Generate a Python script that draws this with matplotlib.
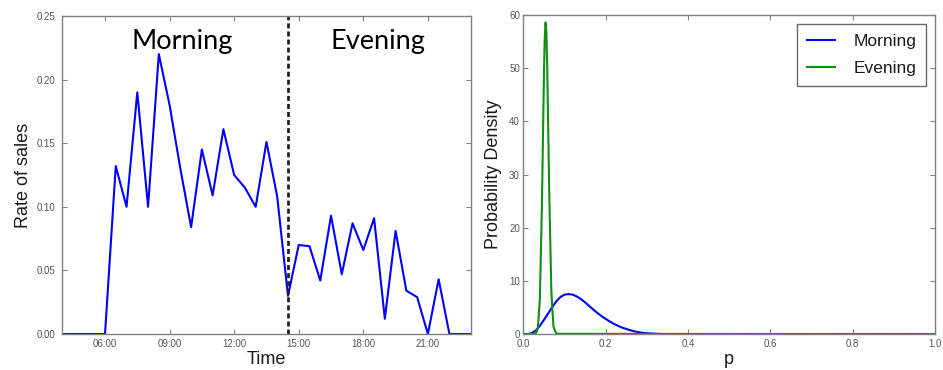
import matplotlib.pyplot as plt

# half-hourly sales rate
times = ["04:00", "04:30", "05:00", "05:30", "06:00", "06:30", "07:00", "07:30",
         "08:00", "08:30", "09:00", "09:30", "10:00", "10:30", "11:00", "11:30",
         "12:00", "12:30", "13:00", "13:30", "14:00", "14:30", "15:00", "15:30",
         "16:00", "16:30", "17:00", "17:30", "18:00", "18:30", "19:00", "19:30",
         "20:00", "20:30", "21:00", "21:30", "22:00", "22:30", "23:00"]
rate = [0.0, 0.0, 0.0, 0.0, 0.0, 0.132, 0.100, 0.190,
        0.100, 0.220, 0.180, 0.130, 0.084, 0.145, 0.109, 0.161,
        0.125, 0.115, 0.100, 0.151, 0.108, 0.030, 0.070, 0.069,
        0.042, 0.093, 0.047, 0.087, 0.066, 0.091, 0.012, 0.081,
        0.034, 0.029, 0.0, 0.043, 0.0, 0.0, 0.0]
split_time = "14:30"
time_ticks = ["06:00", "09:00", "12:00", "15:00", "18:00", "21:00"]
rate_ticks = [0.0, 0.05, 0.10, 0.15, 0.20, 0.25]

# posterior densities
p_morning = [0.0, 0.01, 0.02, 0.03, 0.04, 0.05, 0.06, 0.07, 0.08, 0.09, 0.10,
             0.11, 0.12, 0.13, 0.14, 0.15, 0.16, 0.17, 0.18, 0.19, 0.20, 0.21,
             0.22, 0.23, 0.24, 0.25, 0.26, 0.27, 0.28, 0.29, 0.30, 0.32, 0.35,
             0.40, 1.0]
pdf_morning = [0.0, 0.02, 0.2, 0.7, 1.6, 2.7, 3.9, 5.1, 6.2, 7.0, 7.45,
               7.55, 7.45, 7.1, 6.6, 6.0, 5.3, 4.65, 4.0, 3.4, 2.9, 2.4,
               1.95, 1.6, 1.25, 1.0, 0.75, 0.55, 0.4, 0.28, 0.2, 0.1, 0.03,
               0.0, 0.0]
p_evening = [0.0, 0.030, 0.035, 0.040, 0.045, 0.050, 0.052, 0.054, 0.056,
             0.058, 0.063, 0.068, 0.073, 0.080, 1.0]
pdf_evening = [0.0, 0.1, 1.0, 6.5, 24.0, 49.0, 56.0, 58.6, 56.5,
               50.0, 26.0, 8.0, 1.5, 0.1, 0.0]
p_ticks = [0.0, 0.2, 0.4, 0.6, 0.8, 1.0]
density_ticks = [0, 10, 20, 30, 40, 50, 60]


def to_hours(t):
    h, m = t.split(":")
    return int(h) + int(m) / 60


hours = [to_hours(t) for t in times]

SPINE = "#808080"
TICKLBL = "#555555"
LABEL = "#1a1a1a"
plt.rcParams["font.family"] = ["Liberation Sans", "DejaVu Sans"]

fig = plt.figure(figsize=(9.43, 3.70), dpi=100)
ax1 = fig.add_axes([0.0657, 0.0973, 0.4337, 0.8595])
ax2 = fig.add_axes([0.555, 0.0965, 0.4366, 0.863])


def style(ax, ypad):
    for s in ax.spines.values():
        s.set_color(SPINE)
        s.set_linewidth(1.0)
    ax.tick_params(direction="in", top=True, right=True, length=3.5,
                   width=0.8, color=SPINE, labelsize=7, labelcolor=TICKLBL)
    ax.tick_params(axis="x", pad=3.5)
    ax.tick_params(axis="y", pad=ypad)


# left: sales rate over the day
ax1.plot(hours, rate, color="#0000ff", lw=1.5)
ax1.axvline(to_hours(split_time), color="#222222", lw=2,
            linestyle=(0, (1.8, 1.1)))
ax1.set_xlim(hours[0], hours[-1])
ax1.set_ylim(0, 0.25)
ax1.set_xticks([to_hours(t) for t in time_ticks])
ax1.set_xticklabels(time_ticks)
ax1.set_yticks(rate_ticks)
ax1.set_yticklabels(["%.2f" % v for v in rate_ticks])
style(ax1, 5)
ax1.set_xlabel("Time", fontsize=13, color=LABEL)
ax1.set_ylabel("Rate of sales", fontsize=13, color=LABEL)
ax1.xaxis.set_label_coords(0.5, -0.053)
ax1.yaxis.set_label_coords(-0.073, 0.5)
ax1.text(0.295, 0.92, "Morning", transform=ax1.transAxes, fontsize=19.5,
         family="Lato", ha="center", va="center", color="black")
ax1.text(0.773, 0.92, "Evening", transform=ax1.transAxes, fontsize=19.5,
         family="Lato", ha="center", va="center", color="black")

# right: posterior densities of p
ax2.plot(p_morning, pdf_morning, color="#0000ff", lw=1.5, label="Morning")
ax2.plot(p_evening, pdf_evening, color="#109010", lw=1.5, label="Evening")
ax2.set_xlim(0, 1)
ax2.set_ylim(0, 60)
ax2.set_xticks(p_ticks)
ax2.set_xticklabels(["%.1f" % v for v in p_ticks])
ax2.set_yticks(density_ticks)
style(ax2, 2.5)
ax2.set_xlabel("p", fontsize=13, color=LABEL)
ax2.set_ylabel("Probability Density", fontsize=13, color=LABEL)
ax2.xaxis.set_label_coords(0.5, -0.052)
ax2.yaxis.set_label_coords(-0.052, 0.5)
leg = ax2.legend(loc="upper right", fontsize=12.5, fancybox=False,
                 edgecolor="#444444", borderaxespad=0.52, handlelength=1.6,
                 handletextpad=1.05, borderpad=0.57, labelspacing=0.68)
leg.get_frame().set_linewidth(1.0)
for t in leg.get_texts():
    t.set_color(LABEL)

fig.savefig("out.png", dpi=100)
